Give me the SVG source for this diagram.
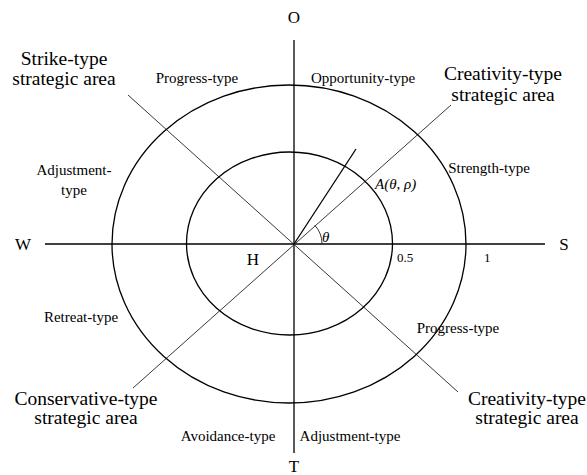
<svg xmlns="http://www.w3.org/2000/svg" width="587" height="475" viewBox="0 0 587 475">
<style>
text{font-family:"Liberation Serif","Times New Roman",serif;fill:#000}
.big{font-size:19.5px;text-anchor:middle}
.sm{font-size:15px;text-anchor:middle}
.ax{font-size:17px;text-anchor:middle}
.it{font-style:italic}
.axis{stroke:#000;stroke-width:1.3;fill:none}
.ell{stroke:#000;stroke-width:1.3;fill:none}
.diag{stroke:#222;stroke-width:0.9;fill:none}
</style>
<rect width="587" height="475" fill="#fff"/>
<g id="connectors">
<line class="axis" x1="45" y1="244" x2="545" y2="244"/>
<line class="axis" x1="294" y1="40" x2="294" y2="453"/>
<line class="diag" x1="128" y1="95" x2="458" y2="392"/>
<line class="diag" x1="451" y1="105" x2="133" y2="388"/>
<line class="axis" x1="294" y1="244" x2="356" y2="149" stroke-width="1.1"/>
<path class="diag" d="M322 244 A28 28 0 0 0 314.8 225.2"/>
</g>
<g id="outer-circle"><ellipse class="ell" cx="289" cy="244" rx="177" ry="159"/></g>
<g id="inner-circle"><ellipse class="ell" cx="289.5" cy="243.5" rx="103" ry="91.5"/></g>
<g id="axis-labels">
<text class="ax" x="294" y="23">O</text>
<text class="ax" x="294" y="472">T</text>
<text class="ax" x="23" y="250">W</text>
<text class="ax" x="564" y="250">S</text>
<text class="ax" x="253" y="265">H</text>
<text x="397" y="262" font-size="13">0.5</text>
<text x="484" y="262" font-size="13">1</text>
<text class="it" x="322" y="242" font-size="15">θ</text>
<text class="it" x="375" y="189" font-size="15">A(θ, ρ)</text>
</g>
<g id="strike-area"><text class="big" x="64" y="65">Strike-type</text><text class="big" x="64" y="85">strategic area</text></g>
<g id="creativity-area-top"><text class="big" x="503" y="80">Creativity-type</text><text class="big" x="503" y="101">strategic area</text></g>
<g id="conservative-area"><text class="big" x="86" y="405">Conservative-type</text><text class="big" x="86" y="424">strategic area</text></g>
<g id="creativity-area-bottom"><text class="big" x="527" y="405">Creativity-type</text><text class="big" x="527" y="424">strategic area</text></g>
<g id="progress-top"><text class="sm" x="197" y="83">Progress-type</text></g>
<g id="opportunity"><text class="sm" x="363" y="83">Opportunity-type</text></g>
<g id="strength"><text class="sm" x="489" y="173">Strength-type</text></g>
<g id="adjustment-left"><text class="sm" x="74" y="175">Adjustment-</text><text class="sm" x="74" y="195">type</text></g>
<g id="retreat"><text class="sm" x="81" y="322">Retreat-type</text></g>
<g id="progress-bottom"><text class="sm" x="458" y="333">Progress-type</text></g>
<g id="avoidance"><text class="sm" x="228" y="441">Avoidance-type</text></g>
<g id="adjustment-bottom"><text class="sm" x="350" y="441">Adjustment-type</text></g>
</svg>
